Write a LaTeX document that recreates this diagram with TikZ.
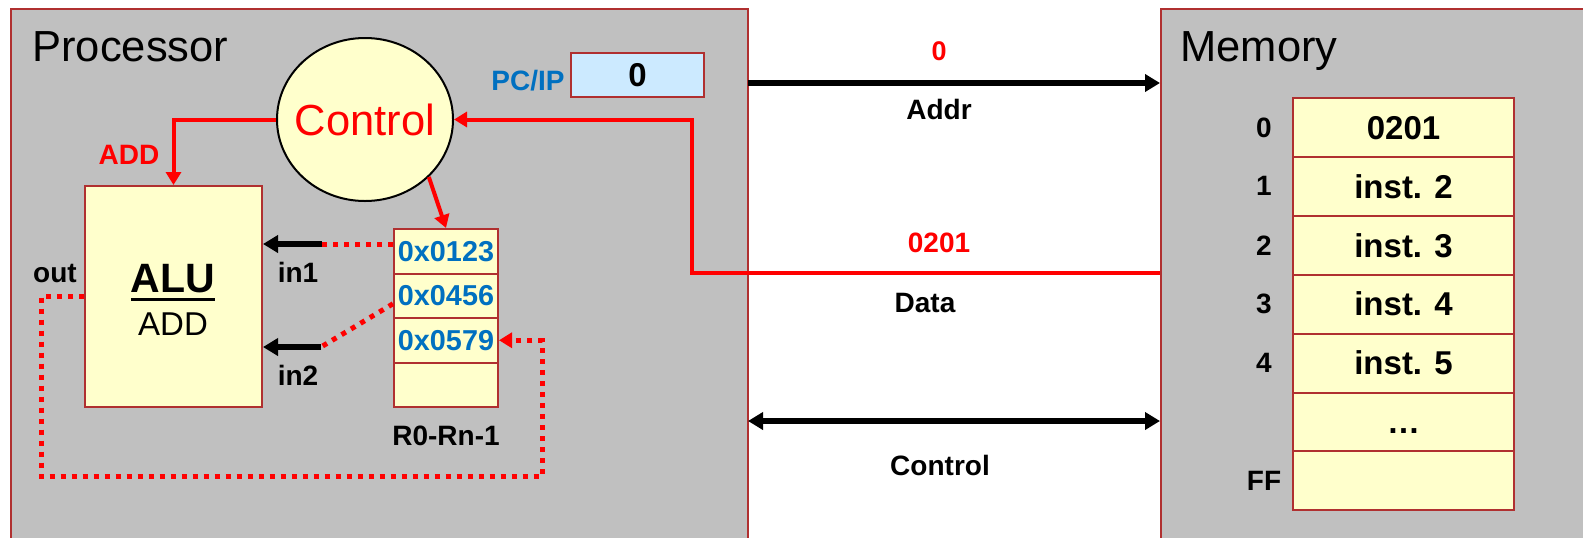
\documentclass[tikz,border=0pt]{standalone}
\usepackage{fontspec}
\setmainfont{Liberation Sans}
\usetikzlibrary{arrows.meta,shapes.geometric}
\definecolor{cinza}{RGB}{192,192,192}
\definecolor{borda}{RGB}{176,48,48}
\definecolor{amarelo}{RGB}{255,255,204}
\definecolor{azulclaro}{RGB}{204,234,255}
\definecolor{azul}{RGB}{0,112,192}
\newsavebox{\caixasub}
\newcommand{\sublinha}[1]{\sbox{\caixasub}{#1}\rlap{\usebox{\caixasub}}\raisebox{-4.25pt}{\rule{\wd\caixasub}{1.5pt}}}
\begin{document}
\begin{tikzpicture}[x=0.5pt,y=-0.5pt]
\tikzstyle{caixa}=[draw=borda, line width=1pt, fill=cinza, inner sep=0]
\tikzstyle{celula}=[draw=borda, line width=1pt, fill=amarelo, inner sep=0]
\tikzstyle{rotulo}=[inner sep=0, anchor=base, font=\bfseries\fontsize{14}{16}\selectfont]
\tikzstyle{titulo}=[inner sep=0, anchor=base west, font=\fontsize{21.75}{24}\selectfont]
\tikzstyle{seta}=[line width=2.6pt, -{Triangle[length=7.5pt,width=8.5pt]}]
\tikzstyle{setav}=[red, line width=2pt, -{Triangle[length=6.5pt,width=7.5pt]}]
\tikzstyle{pontilhado}=[red, line width=2.5pt, dash pattern=on 2.5pt off 3pt]
\useasboundingbox (0,0) rectangle (1583,537);
\clip (0,0) rectangle (1583,537);
% caixas
\node[caixa, minimum width=368.5pt, minimum height=275.5pt] (proc) at (379.5,284.5) {};
\node[caixa, minimum width=229.5pt, minimum height=275.5pt] (mem) at (1390.5,284.5) {};
\node[titulo] (tproc) at (32,61) {Processor};
\node[titulo] (tmem) at (1180,61) {Memory};
\node[ellipse, draw, line width=1pt, fill=amarelo, minimum width=88pt, minimum height=81.5pt, inner sep=0, text=red, font=\fontsize{21.75}{24}\selectfont] (ctrl) at (365,119.5) {\makebox[0pt]{Control}};
\node[celula, minimum width=88.5pt, minimum height=110.5pt] (alu) at (173.5,296.5) {};
\node[rotulo, font=\bfseries\fontsize{20.5}{22}\selectfont] (talu) at (173,292) {\sublinha{ALU}};
\node[inner sep=0, anchor=base, font=\fontsize{16.5}{18}\selectfont] (tadd) at (173,335) {ADD};
\node[draw=borda, line width=1pt, fill=azulclaro, minimum width=66.5pt, minimum height=22pt, inner sep=0, font=\bfseries\fontsize{16.5}{18}\selectfont] (pc) at (637.5,75) {0};
\node[rotulo, anchor=base east, text=azul] (tpc) at (565,90) {PC/IP};
% registradores
\foreach \i/\t in {1/0x0123, 2/0x0456, 3/0x0579, 4/{}}
\node[celula, minimum width=52pt, minimum height=22.25pt, text=azul, font=\bfseries\fontsize{14.4}{16}\selectfont] (reg\i) at (446,{229+44.5*(\i-0.5)}) {\t};
\node[rotulo] (tregs) at (446,445) {R0-Rn-1};
% memoria
\foreach \i/\e/\t in {0/0/0201, 1/1/inst. 2, 2/2/inst. 3, 3/3/inst. 4, 4/4/inst. 5, 5/{}/{\ldots}, 6/FF/{}}{
\node[celula, minimum width=110.5pt, minimum height=29.45pt, text height=11.8pt, text depth=0pt, font=\bfseries\fontsize{16.5}{18}\selectfont] (m\i) at (1403.5,{98+58.9*(\i+0.5)}) {\t};
\node[inner sep=0, font=\bfseries\fontsize{14}{16}\selectfont] (e\i) at (1264,{98+58.9*(\i+0.5)}) {\e};
}
% rotulos
\node[rotulo, text=red, font=\bfseries\fontsize{13.5}{15}\selectfont] (vaddr) at (939,60) {0};
\node[rotulo] (taddr) at (939,119) {Addr};
\node[rotulo, text=red] (vdata) at (939,252) {0201};
\node[rotulo] (tdata) at (925,312) {Data};
\node[rotulo] (tbus) at (940,475) {Control};
\node[rotulo] (tin1) at (298,282) {in1};
\node[rotulo] (tin2) at (298,385) {in2};
\node[rotulo] (tout) at (55,282) {out};
\node[rotulo, text=red] (top) at (129,164) {ADD};
% ligacoes
\coordinate (addr) at (748,83);
\coordinate (bus) at (748,421);
\coordinate (dado) at (692,273);
\coordinate (e1) at (322,244);
\coordinate (e2) at (321,347);
\coordinate (s1) at (41,476);
\coordinate (s2) at (542,476);
\draw[seta] (addr) -- (mem.west |- addr);
\draw[line width=2.6pt, {Triangle[length=7.5pt,width=8.5pt]}-{Triangle[length=7.5pt,width=8.5pt]}] (bus) -- (mem.west |- bus);
\draw[setav] (mem.west |- dado) -- (dado) |- (ctrl.east);
\draw[setav] (ctrl.west) -| (alu.north);
\draw[setav] (ctrl.-42) -- (reg1.north);
\draw[pontilhado] (reg1.west |- e1) -- (e1);
\draw[seta] (e1) -- (alu.east |- e1);
\draw[pontilhado] ([yshift=-4pt]reg2.west) -- (e2);
\draw[seta] (e2) -- (alu.east |- e2);
\draw[pontilhado, -{Triangle[length=6.5pt,width=7.5pt]}] (alu.west) -| (s1) -- (s2) |- (reg3.east);
\end{tikzpicture}
\end{document}
